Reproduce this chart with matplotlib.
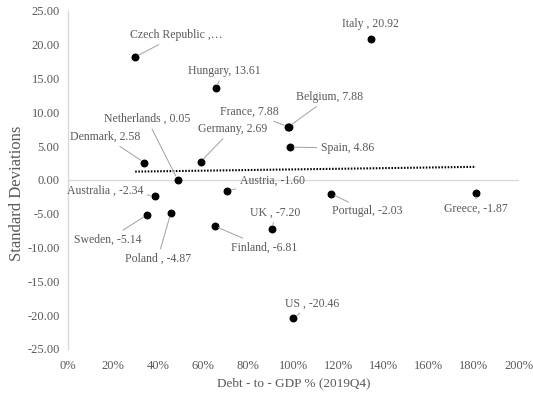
import numpy as np
import matplotlib
matplotlib.use("Agg")
import matplotlib.pyplot as plt
from matplotlib.ticker import FuncFormatter, MultipleLocator

# Debt-to-GDP (%) vs. standard deviations, by country
countries = ["Czech Republic", "Hungary", "Italy", "Belgium", "France", "Spain",
             "Netherlands", "Denmark", "Germany", "Australia", "Austria",
             "Portugal", "Greece", "UK", "Finland", "Sweden", "Poland", "US"]
debt_to_gdp = [29.8, 65.5, 134.2, 97.8, 97.6, 98.4, 48.6, 33.8, 58.8, 38.4,
               70.7, 116.7, 180.9, 90.5, 65.0, 35.1, 45.6, 99.9]
std_devs = [18.20, 13.61, 20.92, 7.88, 7.88, 4.86, 0.05, 2.58, 2.69, -2.34,
            -1.60, -2.03, -1.87, -7.20, -6.81, -5.14, -4.87, -20.46]
label_text = ["Czech Republic ,\u2026", "Hungary, 13.61", "Italy , 20.92",
              "Belgium, 7.88", "France, 7.88", "Spain, 4.86",
              "Netherlands , 0.05", "Denmark, 2.58", "Germany, 2.69",
              "Australia , -2.34", "Austria, -1.60", "Portugal, -2.03",
              "Greece, -1.87", "UK , -7.20", "Finland, -6.81",
              "Sweden, -5.14", "Poland , -4.87", "US , -20.46"]

# label offsets from each point, in pixels (dx, dy); leader flag
label_offsets = [(41.5, 21.7), (8.7, 17), (0, 14.5), (41, 29.7), (-39, 14.7),
                 (57.7, -1), (-30.6, 60.5), (-38.7, 25.7), (31.7, 32.7),
                 (-49.8, 5.5), (44.7, 10), (36.3, -17.7), (0, -16.3),
                 (3.3, 16.2), (49.7, -21.5), (-39, -25), (-13.2, -46),
                 (18.8, 14.7)]
leader = [True] * len(countries)
leader[2] = False

plt.rcParams["font.family"] = ["Liberation Serif", "DejaVu Serif"]
grey = "#595959"
line_grey = "#d9d9d9"

fig = plt.figure(figsize=(5.33, 3.95), dpi=100)
ax = fig.add_axes([0.1276, 0.1165, 0.9737 - 0.1276, 0.9722 - 0.1165])

ax.set_xlim(0, 200)
ax.set_ylim(-25, 25)

ax.axhline(0, color=line_grey, lw=1.0, zorder=1)

ax.scatter(debt_to_gdp, std_devs, s=22, color="black", zorder=3)

# linear trendline
x = np.array(debt_to_gdp)
y = np.array(std_devs)
m, b = np.polyfit(x, y, 1)
xs = np.array([x.min(), x.max()])
ax.plot(xs, m * xs + b, color="black", lw=1.5, linestyle=(0, (0.75, 0.75)),
        zorder=2)

for xi, yi, txt, (dx, dy), lead in zip(debt_to_gdp, std_devs, label_text,
                                        label_offsets, leader):
    ax.annotate(txt, xy=(xi, yi), xytext=(dx, dy), textcoords="offset pixels",
                ha="center", va="center", fontsize=8.5, color=grey,
                arrowprops=dict(arrowstyle="-", color="#a6a6a6", lw=0.75,
                                shrinkA=1, shrinkB=3) if lead else None,
                zorder=4)

ax.xaxis.set_major_locator(MultipleLocator(20))
ax.yaxis.set_major_locator(MultipleLocator(5))
ax.xaxis.set_major_formatter(FuncFormatter(lambda v, p: f"{v:.0f}%"))
ax.yaxis.set_major_formatter(FuncFormatter(lambda v, p: f"{v:.2f}"))
ax.tick_params(axis="both", length=0, labelsize=9, labelcolor=grey)
ax.tick_params(axis="x", pad=8)
ax.tick_params(axis="y", pad=6)

for side in ["top", "right", "bottom"]:
    ax.spines[side].set_visible(False)
ax.spines["left"].set_color(line_grey)
ax.spines["left"].set_linewidth(1.0)

ax.set_xlabel("Debt - to - GDP % (2019Q4)", fontsize=9.5, color=grey,
              labelpad=4)
fig.text(17 / 533, 1 - 193 / 395, "Standard Deviations", rotation=90,
         ha="center", va="center", fontsize=12, color=grey)

fig.savefig("out.png", dpi=100)
